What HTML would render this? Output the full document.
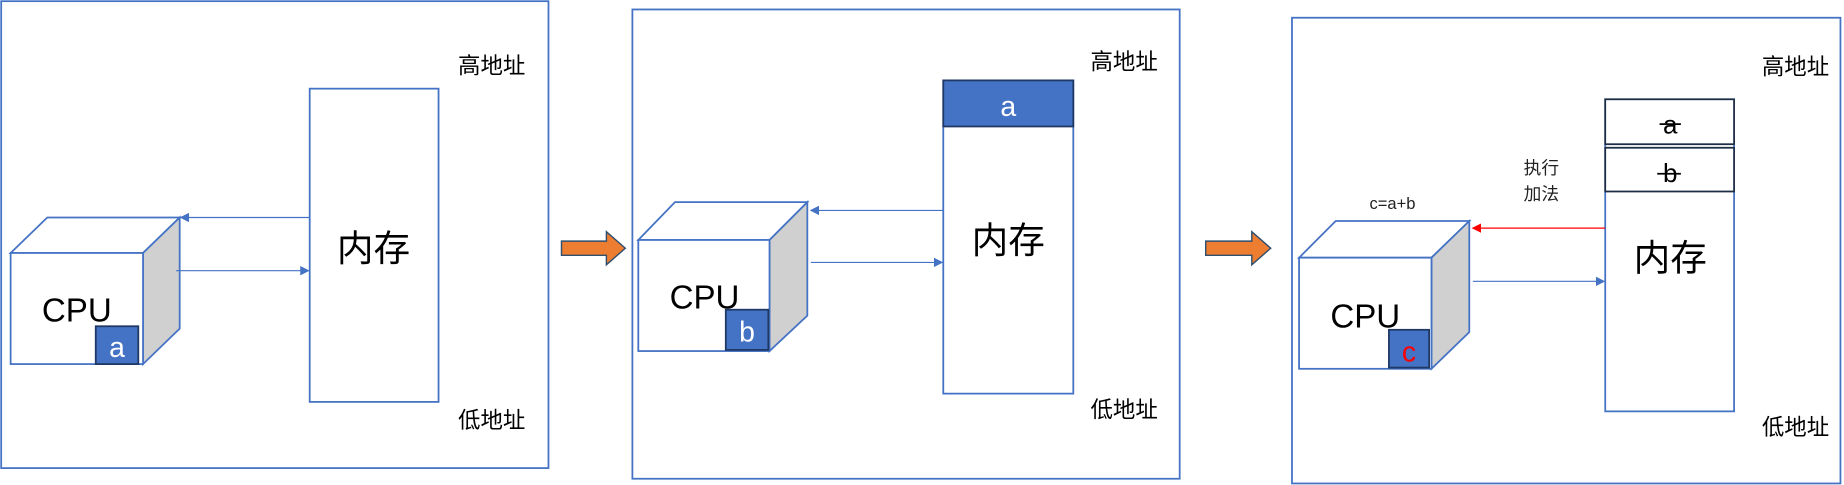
<!DOCTYPE html>
<html><head><meta charset="utf-8"><style>
html,body{margin:0;padding:0;background:#fff;}
svg{display:block;}
text{font-family:"Liberation Sans","Noto Sans CJK SC",sans-serif;}
</style></head><body>
<svg width="1844" height="485" viewBox="0 0 1560 410.3" preserveAspectRatio="none" xmlns="http://www.w3.org/2000/svg">
<defs>
<marker id="hb" markerWidth="8" markerHeight="8" refX="7" refY="4" orient="auto" markerUnits="userSpaceOnUse"><path d="M0,0 L8,4 L0,8 z" fill="#4472c4"/></marker>
<marker id="hr" markerWidth="8" markerHeight="8" refX="7" refY="4" orient="auto" markerUnits="userSpaceOnUse"><path d="M0,0 L8,4 L0,8 z" fill="#ff0000"/></marker>
</defs>
<g fill="none" stroke="#4472c4" stroke-width="1.5">
<rect x="1" y="1" width="463" height="395"/>
<rect x="535" y="8" width="463" height="397"/>
<rect x="1093" y="15" width="464" height="394"/>
</g>
<!-- Panel 1 -->
<text x="416" y="62" font-size="19" text-anchor="middle">高地址</text>
<text x="416" y="362" font-size="19" text-anchor="middle">低地址</text>
<rect x="262" y="75" width="109" height="265" fill="#fff" stroke="#4472c4" stroke-width="1.5"/>
<text x="316" y="221" font-size="31" text-anchor="middle">内存</text>
<polygon points="9,214 40,184 152,184 121,214" fill="#fff" stroke="#4472c4" stroke-width="1.5"/>
<polygon points="121,214 152,184 152,278 121,308" fill="#d0d0d0" stroke="#4472c4" stroke-width="1.5"/>
<rect x="9" y="214" width="112" height="94" fill="#fff" stroke="#4472c4" stroke-width="1.5"/>
<text x="65" y="272" font-size="28" text-anchor="middle">CPU</text>
<rect x="81" y="276" width="36" height="32" fill="#4472c4" stroke="#1f3864" stroke-width="1.5"/>
<text x="99" y="302" font-size="24" fill="#fff" text-anchor="middle">a</text>
<line x1="262" y1="184" x2="153" y2="184" stroke="#4472c4" stroke-width="1" marker-end="url(#hb)"/>
<line x1="149" y1="229" x2="261" y2="229" stroke="#4472c4" stroke-width="1" marker-end="url(#hb)"/>
<polygon points="475,204 513,204 513,196 529,210 513,224 513,216 475,216" fill="#ed7d31" stroke="#2f4f6f" stroke-width="1.2"/>
<!-- Panel 2 -->
<text x="951" y="59" font-size="19" text-anchor="middle">高地址</text>
<text x="951" y="353" font-size="19" text-anchor="middle">低地址</text>
<rect x="798" y="68" width="110" height="265" fill="#fff" stroke="#4472c4" stroke-width="1.5"/>
<rect x="798" y="68" width="110" height="39" fill="#4472c4" stroke="#1f3864" stroke-width="1.5"/>
<text x="853" y="98" font-size="24" fill="#fff" text-anchor="middle">a</text>
<text x="853" y="214" font-size="31" text-anchor="middle">内存</text>
<polygon points="540,203 571,171 683,171 651,203" fill="#fff" stroke="#4472c4" stroke-width="1.5"/>
<polygon points="651,203 683,171 683,267 651,297" fill="#d0d0d0" stroke="#4472c4" stroke-width="1.5"/>
<rect x="540" y="203" width="111" height="94" fill="#fff" stroke="#4472c4" stroke-width="1.5"/>
<text x="596" y="261" font-size="28" text-anchor="middle">CPU</text>
<rect x="614" y="262" width="36" height="34" fill="#4472c4" stroke="#1f3864" stroke-width="1.5"/>
<text x="632" y="289" font-size="24" fill="#fff" text-anchor="middle">b</text>
<line x1="798" y1="178" x2="686" y2="178" stroke="#4472c4" stroke-width="1" marker-end="url(#hb)"/>
<line x1="686" y1="222" x2="797" y2="222" stroke="#4472c4" stroke-width="1" marker-end="url(#hb)"/>
<polygon points="1020,204 1059,204 1059,196 1075,210 1059,224 1059,216 1020,216" fill="#ed7d31" stroke="#2f4f6f" stroke-width="1.2"/>
<!-- Panel 3 -->
<text x="1519" y="63" font-size="19" text-anchor="middle">高地址</text>
<text x="1519" y="368" font-size="19" text-anchor="middle">低地址</text>
<rect x="1358" y="84" width="109" height="264" fill="#fff" stroke="#4472c4" stroke-width="1.5"/>
<rect x="1358" y="84" width="109" height="38" fill="#fff" stroke="#1f2d44" stroke-width="1.5"/>
<rect x="1358" y="125" width="109" height="37" fill="#fff" stroke="#1f2d44" stroke-width="1.5"/>
<text x="1413" y="113" font-size="22" text-anchor="middle">a</text>
<line x1="1404" y1="105" x2="1422" y2="105" stroke="#000" stroke-width="1.4"/>
<text x="1413" y="154" font-size="22" text-anchor="middle">b</text>
<line x1="1402" y1="147" x2="1422" y2="147" stroke="#000" stroke-width="1.4"/>
<text x="1413" y="229" font-size="31" text-anchor="middle">内存</text>
<text x="1178" y="177" font-size="14" text-anchor="middle" fill="#222">c=a+b</text>
<text x="1304" y="147" font-size="15" text-anchor="middle" fill="#222">执行</text>
<text x="1304" y="169" font-size="15" text-anchor="middle" fill="#222">加法</text>
<polygon points="1099,218 1130,187 1243,187 1211,218" fill="#fff" stroke="#4472c4" stroke-width="1.5"/>
<polygon points="1211,218 1243,187 1243,281 1211,312" fill="#d0d0d0" stroke="#4472c4" stroke-width="1.5"/>
<rect x="1099" y="218" width="112" height="94" fill="#fff" stroke="#4472c4" stroke-width="1.5"/>
<text x="1155" y="277" font-size="28" text-anchor="middle">CPU</text>
<rect x="1175" y="279" width="34" height="32" fill="#4472c4" stroke="#1f3864" stroke-width="1.5"/>
<text x="1192" y="306" font-size="24" fill="#ff0000" text-anchor="middle">c</text>
<line x1="1358" y1="193" x2="1246" y2="193" stroke="#ff0000" stroke-width="1" marker-end="url(#hr)"/>
<line x1="1246" y1="238" x2="1357" y2="238" stroke="#4472c4" stroke-width="1" marker-end="url(#hb)"/>
</svg>
</body></html>
